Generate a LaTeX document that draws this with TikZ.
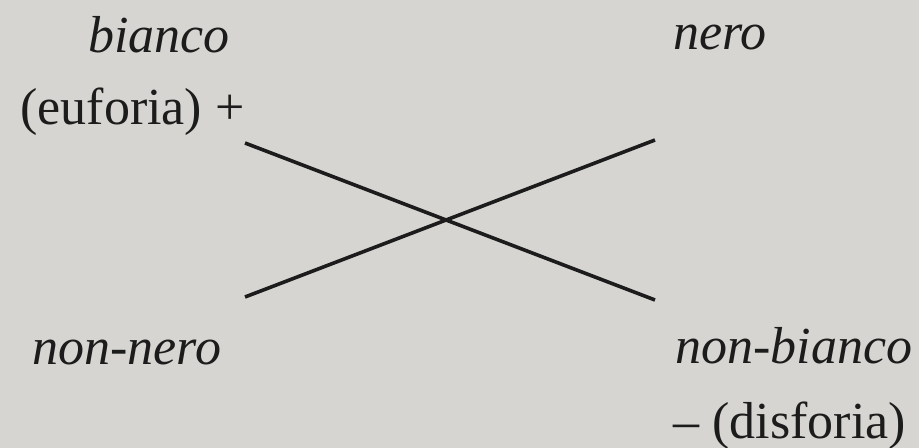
\documentclass[tikz,border=0pt]{standalone}
\usepackage{fontspec}
\setmainfont{Liberation Serif}[ItalicFont={Liberation Serif Italic}]
\definecolor{paper}{RGB}{214,213,209}
\definecolor{ink}{RGB}{28,28,28}
\begin{document}
\begin{tikzpicture}[x=0.5pt,y=-0.5pt,
  lbl/.style={anchor=base west,inner sep=0pt,text=ink,font=\fontsize{26}{30}\selectfont},
  stroke/.style={draw=ink,line width=1.8pt}]
\fill[paper] (0,0) rectangle (919,448);
\useasboundingbox (0,0) rectangle (919,448);
\node[lbl] (bianco) at (88,53) {\itshape bianco};
\node[lbl] (euf) at (20,125) {(euforia) +};
\node[lbl] (nero) at (673,50) {\itshape nero};
\node[lbl] (nonnero) at (32,364) {\itshape non-nero};
\node[lbl] (nonbianco) at (675,363) {\itshape non-bianco};
\node[lbl] (disf) at (673,438) {– (disforia)};
\coordinate (a1) at (245,143);
\coordinate (a2) at (655,300);
\coordinate (b1) at (245,297);
\coordinate (b2) at (655,140);
\draw[stroke] (a1) -- (a2);
\draw[stroke] (b1) -- (b2);
\end{tikzpicture}
\end{document}
